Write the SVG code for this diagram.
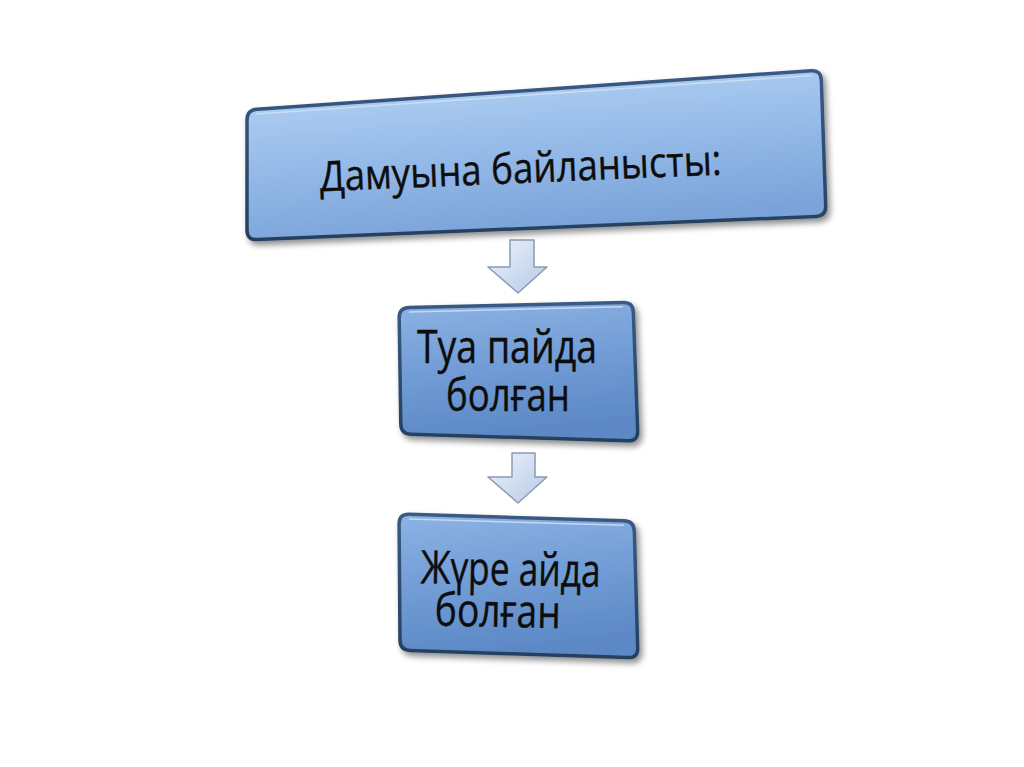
<svg xmlns="http://www.w3.org/2000/svg" width="1024" height="767" viewBox="0 0 1024 767">
<defs>
<linearGradient id="gTop" x1="0" y1="0" x2="0.3" y2="1">
<stop offset="0" stop-color="#b9d6f5"/>
<stop offset="0.5" stop-color="#98bdea"/>
<stop offset="1" stop-color="#7ba3d9"/>
</linearGradient>
<linearGradient id="gMid" x1="0" y1="0" x2="0.2" y2="1">
<stop offset="0" stop-color="#8db3e3"/>
<stop offset="0.5" stop-color="#729dd6"/>
<stop offset="1" stop-color="#5c89c6"/>
</linearGradient>
<linearGradient id="gArrow" x1="0" y1="0" x2="1" y2="1">
<stop offset="0" stop-color="#eef3fb"/>
<stop offset="1" stop-color="#b5c9e6"/>
</linearGradient>
<linearGradient id="gEdge" x1="0" y1="0" x2="0" y2="1">
<stop offset="0" stop-color="#3a5a84"/>
<stop offset="1" stop-color="#24405f"/>
</linearGradient>
<filter id="sh" x="-10%" y="-10%" width="120%" height="130%">
<feGaussianBlur in="SourceAlpha" stdDeviation="3"/>
<feOffset dx="3" dy="4" result="b"/>
<feComponentTransfer><feFuncA type="linear" slope="0.45"/></feComponentTransfer>
<feMerge><feMergeNode/><feMergeNode in="SourceGraphic"/></feMerge>
</filter>
</defs>
<style>
.box{stroke:url(#gEdge);stroke-width:3.5;stroke-linejoin:round;filter:url(#sh)}
.hi{fill:none;stroke:#d4e4f6;stroke-width:1.5;opacity:0.8}
.lbl{font-family:"Open Sans","Noto Sans","DejaVu Sans",sans-serif;fill:#0d0d0d;stroke:#0d0d0d;stroke-width:0.4;text-anchor:middle}
.arr{fill:url(#gArrow);stroke:#8b9bb3;stroke-width:1.5;stroke-linejoin:round}
</style>
<rect width="1024" height="767" fill="#ffffff"/>
<g id="connectors">
<path class="arr" d="M510,240 L534,240 L534,267 L547,267 L518,293 L488,267 L510,267 Z"/>
<path class="arr" d="M512,453 L535,453 L535,477 L547,477 L518,503 L488,477 L512,477 Z"/>
</g>
<g id="node-top">
<path class="box" fill="url(#gTop)" d="M257,109.3 L811,70.7 Q821,70 821.3,80 L825.7,206 Q826,216 816,216.4 L257,239.6 Q247,240 247,230 L247,120 Q247,110 257,109.3 Z"/>
<path class="hi" d="M256,114 L812,75.5"/>
<text class="lbl" font-size="42" x="521" y="183" textLength="402" lengthAdjust="spacingAndGlyphs" transform="rotate(-2.4 521 183)">Дамуына байланысты:</text>
</g>
<g id="node-mid">
<path class="box" fill="url(#gMid)" d="M409,307.6 L623,302.4 Q633,302 633.3,312 L637.7,431 Q638,441 628,440.8 L411,434.2 Q401,434 400.8,424 L399.2,318 Q399,308 409,307.6 Z"/>
<path class="hi" d="M409,312 L623,306.8"/>
<text class="lbl" font-size="45"><tspan x="507" y="363" textLength="180" lengthAdjust="spacingAndGlyphs">Туа пайда</tspan><tspan x="508" y="411" textLength="124" lengthAdjust="spacingAndGlyphs">болған</tspan></text>
</g>
<g id="node-bottom">
<path class="box" fill="url(#gMid)" d="M409,514.3 L624,520.7 Q634,521 634.3,531 L637.7,648 Q638,658 628,657.6 L410,650.4 Q400,650 400,640 L399.1,524 Q399,514 409,514.3 Z"/>
<path class="hi" d="M409,519 L624,525.3"/>
<text class="lbl" font-size="46" transform="rotate(1.2 505 605)"><tspan x="510" y="585" textLength="180" lengthAdjust="spacingAndGlyphs">Жүре айда</tspan><tspan x="498" y="627" textLength="126" lengthAdjust="spacingAndGlyphs">болған</tspan></text>
</g>
</svg>
